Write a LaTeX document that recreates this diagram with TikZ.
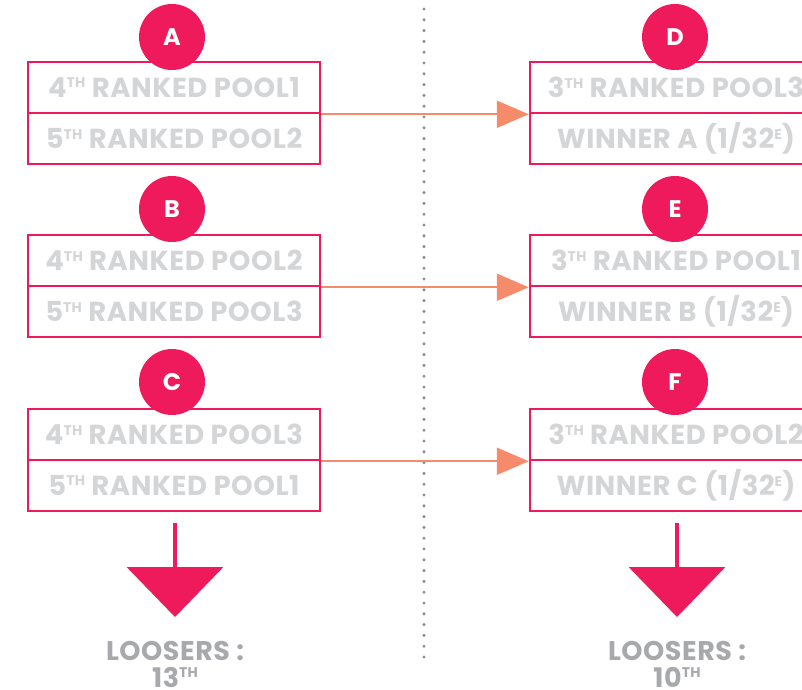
\documentclass[tikz,border=0pt]{standalone}
\usepackage{fontspec}
\setmainfont{Poppins}[LetterSpace=2]
\usetikzlibrary{arrows.meta}
\definecolor{pink}{HTML}{EE1A5B}
\definecolor{orng}{HTML}{F58B6A}
\definecolor{lgrey}{HTML}{D4D5D7}
\definecolor{dgrey}{HTML}{A8A9AC}
\definecolor{dotgrey}{HTML}{8C8C8C}
\newcommand{\sps}[1]{\raisebox{0.62ex}{\fontsize{14}{14}\selectfont #1}}
\tikzset{
  cell/.style={draw=pink, line width=2.5pt, minimum width=292pt, minimum height=51pt,
    inner sep=0pt, font=\fontsize{27.5}{27.5}\selectfont\bfseries, text=lgrey, anchor=center},
  badge/.style={circle, fill=pink, minimum size=66pt, inner sep=0pt,
    font=\fontsize{24}{24}\selectfont\bfseries, text=white},
  link/.style={orng, line width=2pt, -{Triangle[length=32pt,width=27pt]}},
  drop/.style={pink, line width=4pt, -{Triangle[length=50pt,width=96pt]}},
  lbl/.style={font=\fontsize{27}{27}\selectfont\bfseries, text=dgrey, anchor=base, inner sep=0pt}
}
\begin{document}
\begin{tikzpicture}[x=1pt,y=-1pt]
\useasboundingbox (0,0) rectangle (802,689);
\clip (0,0) rectangle (802,689);
% divider
\draw[dotgrey, line width=3.4pt, line cap=round, dash pattern=on 0pt off 10.8pt] (424,9) -- (424,664);
% left column
\node[cell] (a1) at (174,87.5) {4\sps{TH} RANKED POOL1};
\node[cell] (a2) at (174,138.5) {5\sps{TH} RANKED POOL2};
\node[cell] (b1) at (174,260.5) {4\sps{TH} RANKED POOL2};
\node[cell] (b2) at (174,311.5) {5\sps{TH} RANKED POOL3};
\node[cell] (c1) at (174,434.5) {4\sps{TH} RANKED POOL3};
\node[cell] (c2) at (174,485.5) {5\sps{TH} RANKED POOL1};
% right column
\node[cell] (d1) at (676,87.5) {3\sps{TH} RANKED POOL3};
\node[cell] (d2) at (676,138.5) {WINNER A (1/32\sps{E})};
\node[cell] (e1) at (676,260.5) {3\sps{TH} RANKED POOL1};
\node[cell] (e2) at (676,311.5) {WINNER B (1/32\sps{E})};
\node[cell] (f1) at (676,434.5) {3\sps{TH} RANKED POOL2};
\node[cell] (f2) at (676,485.5) {WINNER C (1/32\sps{E})};
% badges
\node[badge] (ba) at (172,37) {A};
\node[badge] (bb) at (172,209) {B};
\node[badge] (bc) at (172,382) {C};
\node[badge] (bd) at (675,37) {D};
\node[badge] (be) at (675,209) {E};
\node[badge] (bf) at (675,382) {F};
% links
\draw[link] (a1.south east) -- (d1.south west);
\draw[link] (b1.south east) -- (e1.south west);
\draw[link] (c1.south east) -- (f1.south west);
% drops
\coordinate (ls) at (175,523);
\coordinate (rs) at (677,523);
\node[lbl] (ll) at (175,660) {LOOSERS :};
\node[lbl] (ll2) at (175,687) {13\sps{TH}};
\node[lbl] (rl) at (677,660) {LOOSERS :};
\node[lbl] (rl2) at (677,687) {10\sps{TH}};
\draw[drop] (ls) -- (175,617);
\draw[drop] (rs) -- (677,617);
\end{tikzpicture}
\end{document}
